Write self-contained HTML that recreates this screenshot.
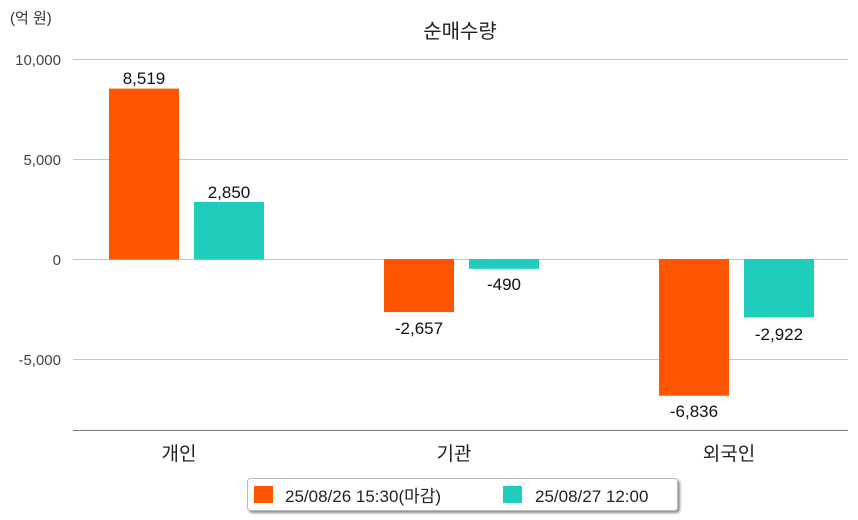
<!DOCTYPE html>
<html><head><meta charset="utf-8"><style>
html,body{margin:0;padding:0;background:#fff;}
svg{display:block;font-family:"Liberation Sans","Noto Sans CJK KR",sans-serif;}
</style></head><body>
<svg width="858" height="520" viewBox="0 0 858 520" xmlns="http://www.w3.org/2000/svg">
<defs><filter id="sh" x="-5%" y="-20%" width="110%" height="150%"><feDropShadow dx="2" dy="2" stdDeviation="1.2" flood-color="#000" flood-opacity="0.45"/></filter></defs>
<text x="10" y="23" font-size="15" fill="#333">(억 원)</text>
<text x="460" y="38" font-size="20" fill="#222" text-anchor="middle">순매수량</text>
<g stroke="#c8c8c8" stroke-width="1">
<line x1="73" y1="59.5" x2="848" y2="59.5"/>
<line x1="73" y1="159.5" x2="848" y2="159.5"/>
<line x1="73" y1="259.5" x2="848" y2="259.5"/>
<line x1="73" y1="359.5" x2="848" y2="359.5"/>
</g>
<line x1="73" y1="430.5" x2="848" y2="430.5" stroke="#777" stroke-width="1"/>
<g font-size="15" fill="#444" text-anchor="end">
<text x="61" y="65">10,000</text>
<text x="61" y="165">5,000</text>
<text x="61" y="265">0</text>
<text x="61" y="365">-5,000</text>
</g>
<g fill="#ff5500">
<rect x="109" y="88.6" width="70" height="170.9"/>
<rect x="384" y="259" width="70" height="53.1"/>
<rect x="659" y="259" width="70" height="136.7"/>
</g>
<g fill="#1ecdbb">
<rect x="194" y="202" width="70" height="57.5"/>
<rect x="469" y="259" width="70" height="9.8"/>
<rect x="744" y="259" width="70" height="58.4"/>
</g>
<g font-size="17" fill="#111" text-anchor="middle">
<text x="144" y="84">8,519</text>
<text x="229" y="198">2,850</text>
<text x="419" y="334">-2,657</text>
<text x="504" y="290">-490</text>
<text x="694" y="417">-6,836</text>
<text x="779" y="340">-2,922</text>
</g>
<g font-size="19" fill="#222" text-anchor="middle">
<text x="179" y="460">개인</text>
<text x="454" y="460">기관</text>
<text x="729" y="460">외국인</text>
</g>
<rect x="247.5" y="478.5" width="430" height="32" rx="3" fill="#fff" stroke="#bbb" filter="url(#sh)"/>
<rect x="254" y="486" width="19" height="17" fill="#ff5500"/>
<text x="285" y="502" font-size="17" fill="#222">25/08/26 15:30(마감)</text>
<rect x="503" y="486" width="19" height="17" fill="#1ecdbb"/>
<text x="535" y="502" font-size="17" fill="#222">25/08/27 12:00</text>
</svg>
</body></html>
